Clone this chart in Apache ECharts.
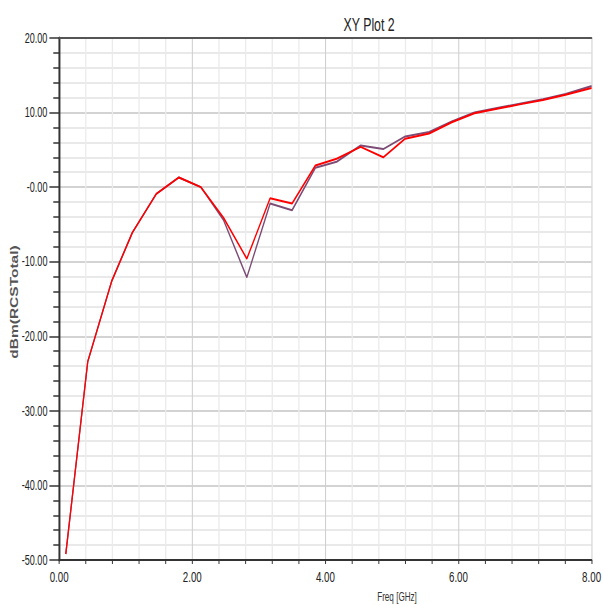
<!DOCTYPE html>
<html>
<head>
<meta charset="utf-8">
<script src="https://cdn.jsdelivr.net/npm/echarts@6/dist/echarts.min.js"></script>
<style>
  html, body { margin: 0; padding: 0; background: #fff; overflow: hidden; }
  #wrap { width: 603px; height: 605px; overflow: hidden; }
  /* the source picture is a horizontally squeezed export, so the chart is
     laid out wider and squeezed back with CSS */
  #chart { width: 928px; height: 605px; transform: scaleX(0.6498); transform-origin: 0 0; }
</style>
</head>
<body>
<div id="wrap"><div id="chart"></div></div>
<script>
// frequency samples (GHz)
const freq = [0.10, 0.43, 0.79, 1.10, 1.46, 1.80, 2.13, 2.47, 2.82, 3.17, 3.50, 3.85,
  4.17, 4.53, 4.87, 5.20, 5.56, 5.90, 6.24, 6.58, 6.92, 7.27, 7.61, 8.00];

// red trace
const rcsRed = [-49.2, -23.4, -12.6, -6.1, -0.9, 1.3, 0.0, -4.1, -9.6, -1.5, -2.2, 2.9,
  3.8, 5.4, 4.0, 6.5, 7.2, 8.7, 9.9, 10.5, 11.1, 11.7, 12.4, 13.3];

// purple trace (mostly hidden under the red one)
const rcsPurple = [-49.2, -23.4, -12.6, -6.1, -0.9, 1.3, 0.0, -4.4, -12.1, -2.2, -3.1, 2.6,
  3.4, 5.6, 5.1, 6.8, 7.4, 8.8, 10.0, 10.6, 11.2, 11.8, 12.5, 13.55];

// tick labels as printed on the axes
const yTickValues = [-50, -40, -30, -20, -10, 0, 10, 20];
const yTickLabels = ["-50.00", "-40.00", "-30.00", "-20.00", "-10.00", "-0.00", "10.00", "20.00"];
const xTickValues = [0, 2, 4, 6, 8];
const xTickLabels = ["0.00", "2.00", "4.00", "6.00", "8.00"];

const font = "'Liberation Sans', Arial, sans-serif";

const chart = echarts.init(document.getElementById("chart"), null, { renderer: "svg" });

const pairs = (ys) => freq.map((f, i) => [f, ys[i]]);

const option = {
  animation: false,
  title: [
    {
      text: "XY Plot 2",
      left: 563,
      top: 9,
      textAlign: "center",
      textStyle: { fontFamily: font, fontSize: 19, fontWeight: "normal", color: "#222" },
    },
    {
      text: "Freq [GHz]",
      left: 606,
      top: 585,
      textAlign: "center",
      textStyle: { fontFamily: font, fontSize: 12.5, fontWeight: "normal", color: "#333" },
    },
  ],
  grid: { left: 91, right: 4, top: 38, bottom: 45, containLabel: false },
  xAxis: [
    {
      type: "value",
      min: 0,
      max: 8,
      interval: 2,
      axisLine: { show: true, onZero: false, lineStyle: { color: "#333", width: 2 } },
      axisTick: { show: true, length: 4, lineStyle: { color: "#333", width: 1.5 } },
      minorTick: { show: true, splitNumber: 5, length: 4, lineStyle: { color: "#333", width: 1.5 } },
      axisLabel: {
        margin: 10,
        fontFamily: font,
        fontSize: 15,
        color: "#222",
        formatter: (v) => xTickLabels[xTickValues.indexOf(v)],
      },
      splitLine: { show: true, lineStyle: { color: "#cfcfcf", width: 1.6 } },
      minorSplitLine: { show: true, lineStyle: { color: "#ebebeb", width: 2 } },
    },
    {
      // top border of the plot frame
      type: "value",
      position: "top",
      min: 0,
      max: 8,
      axisLine: { show: true, onZero: false, lineStyle: { color: "#555", width: 2 } },
      axisTick: { show: false },
      axisLabel: { show: false },
      splitLine: { show: false },
    },
  ],
  yAxis: {
    type: "value",
    min: -50,
    max: 20,
    interval: 10,
    axisLine: { show: true, onZero: false, lineStyle: { color: "#333", width: 3 } },
    axisTick: { show: true, length: 15, lineStyle: { color: "#333", width: 1.5 } },
    minorTick: { show: true, splitNumber: 5, length: 9, lineStyle: { color: "#333", width: 1.5 } },
    axisLabel: {
      margin: 18,
      fontFamily: font,
      fontSize: 14,
      color: "#222",
      formatter: (v) => yTickLabels[yTickValues.indexOf(v)],
    },
    splitLine: { show: true, lineStyle: { color: "#c4c4c4", width: 1.5 } },
    minorSplitLine: { show: true, lineStyle: { color: "#e9e9e9", width: 2 } },
  },
  graphic: [
    {
      type: "text",
      x: 22,
      y: 302,
      rotation: Math.PI / 2,
      style: {
        text: "dBm(RCSTotal)",
        fontFamily: font,
        fontSize: 15.5,
        fontWeight: "bold",
        fill: "#555",
        align: "center",
        verticalAlign: "middle",
      },
    },
  ],
  series: [
    {
      name: "purple",
      type: "line",
      data: pairs(rcsPurple),
      showSymbol: false,
      lineStyle: { color: "#7d4c76", width: 2 },
      z: 2,
    },
    {
      name: "red",
      type: "line",
      data: pairs(rcsRed),
      showSymbol: false,
      lineStyle: { color: "#ff0000", width: 2 },
      z: 3,
    },
  ],
};

chart.setOption(option);
</script>
</body>
</html>
